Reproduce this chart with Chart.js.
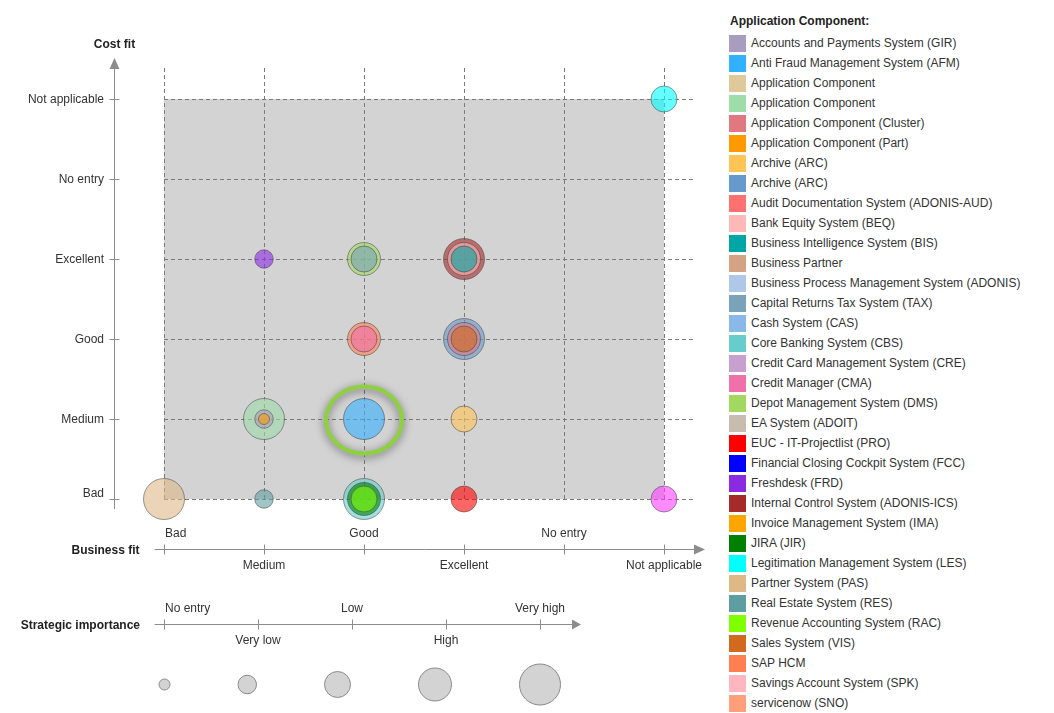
<!DOCTYPE html>
<html>
<head>
<meta charset="utf-8">
<script src="https://cdn.jsdelivr.net/npm/chart.js@4"></script>
<style>
html,body{margin:0;padding:0;background:#fff;overflow:hidden;}
#wrap{position:relative;width:1054px;height:713px;}
#chart{position:absolute;left:0;top:0;}
#legend{position:absolute;left:729px;top:0;width:325px;height:713px;overflow:hidden;font:12px "Liberation Sans",Arial,sans-serif;color:#333;}
#legend .lt{position:absolute;left:1px;top:11px;line-height:20px;font-weight:bold;color:#222;}
#legend .li{position:absolute;left:0;height:20px;line-height:20px;white-space:nowrap;}
#legend .b{position:absolute;left:0;top:1.5px;width:17px;height:17px;}
#legend .t{position:absolute;left:22px;top:0;}
</style>
</head>
<body>
<div id="wrap">
  <canvas id="chart" width="720" height="713"></canvas>
  <div id="legend"></div>
</div>
<script>
// ---------------- DATA ----------------
const fitLevels = ['Bad', 'Medium', 'Good', 'Excellent', 'No entry', 'Not applicable'];
const importanceLevels = ['No entry', 'Very low', 'Low', 'High', 'Very high'];

const legendTitle = 'Application Component:';
const components = [
  'Accounts and Payments System (GIR)',
  'Anti Fraud Management System (AFM)',
  'Application Component',
  'Application Component',
  'Application Component (Cluster)',
  'Application Component (Part)',
  'Archive (ARC)',
  'Archive (ARC)',
  'Audit Documentation System (ADONIS-AUD)',
  'Bank Equity System (BEQ)',
  'Business Intelligence System (BIS)',
  'Business Partner',
  'Business Process Management System (ADONIS)',
  'Capital Returns Tax System (TAX)',
  'Cash System (CAS)',
  'Core Banking System (CBS)',
  'Credit Card Management System (CRE)',
  'Credit Manager (CMA)',
  'Depot Management System (DMS)',
  'EA System (ADOIT)',
  'EUC - IT-Projectlist (PRO)',
  'Financial Closing Cockpit System (FCC)',
  'Freshdesk (FRD)',
  'Internal Control System (ADONIS-ICS)',
  'Invoice Management System (IMA)',
  'JIRA (JIR)',
  'Legitimation Management System (LES)',
  'Partner System (PAS)',
  'Real Estate System (RES)',
  'Revenue Accounting System (RAC)',
  'Sales System (VIS)',
  'SAP HCM',
  'Savings Account System (SPK)',
  'servicenow (SNO)',
  ''   // further component below the visible legend
];
const componentColors = [
  '#a89cc0', '#33b0ff', '#dfc99a', '#9edca8', '#e07880', '#ff9900', '#ffc455', '#6699cc',
  '#ff7070', '#ffb8b8', '#00a6a6', '#d4a285', '#b0c8e8', '#7aa2b8', '#8ab8e8', '#66cccc',
  '#c8a0d0', '#f070a8', '#a2d860', '#c8bcb0', '#ff0000', '#0000ff', '#8a2be2', '#a52a2a',
  '#ffa500', '#008000', '#00ffff', '#deb887', '#5f9ea0', '#7fff00', '#d2691e', '#ff7f50',
  '#ffb6c1', '#ffa07a', '#ff40ff'
];
const businessFit = [
  'Medium', 'Good', null, 'Medium', 'Excellent', 'Medium', 'Excellent', 'Excellent',
  null, 'Excellent', 'Excellent', null, null, 'Good', null, 'Good',
  null, 'Good', 'Good', null, 'Excellent', null, 'Medium', 'Excellent',
  null, 'Good', 'Not applicable', 'Bad', 'Medium', 'Good', 'Excellent', 'Good',
  null, null, 'Not applicable'
];
const costFit = [
  'Medium', 'Medium', null, 'Medium', 'Good', 'Medium', 'Medium', 'Good',
  null, 'Excellent', 'Excellent', null, null, 'Excellent', null, 'Bad',
  null, 'Good', 'Excellent', null, 'Bad', null, 'Excellent', 'Excellent',
  null, 'Bad', 'Not applicable', 'Bad', 'Bad', 'Bad', 'Good', 'Good',
  null, null, 'Bad'
];
const strategicImportance = [
  'Very low', 'Very high', null, 'Very high', 'High', 'No entry', 'Low', 'Very high',
  null, 'High', 'Low', null, null, 'Low', null, 'Very high',
  null, 'Low', 'High', null, 'Low', null, 'Very low', 'Very high',
  null, 'High', 'Low', 'Very high', 'Very low', 'Low', 'Low', 'High',
  null, null, 'Low'
];
const highlightedComponent = 'Anti Fraud Management System (AFM)';

// ---------------- STYLE / LAYOUT ----------------
const FONT_FAMILY = '"Liberation Sans", Arial, sans-serif';
const FONT = '12px ' + FONT_FAMILY;
const FONT_BOLD = 'bold 12px ' + FONT_FAMILY;
const TEXT = '#333333';
const TITLE = '#222222';
const AXIS = '#8c8c8c';
const GRID = '#7a7a7a';
const importanceRadius = [5.5, 9.25, 13, 16.5, 20.5];
const LAYOUT = {
  yAxisX: 114.5, yArrowTip: 58, yArrowBase: 69,
  xAxisY: 549.5, xAxisStart: 154.5, xArrowBase: 694, xArrowTip: 705,
  impAxisY: 624.5, impArrowBase: 572, impArrowTip: 581, impStep: 94,
  sizeRowY: 684.5, sizeGap: 68, textDy: 1
};

function hexA(hex, a) {
  const n = parseInt(hex.slice(1), 16);
  return 'rgba(' + ((n >> 16) & 255) + ',' + ((n >> 8) & 255) + ',' + (n & 255) + ',' + a + ')';
}

// ---------------- LEGEND (HTML) ----------------
const legendEl = document.getElementById('legend');
let lh = '<div class="lt">' + legendTitle + '</div>';
components.forEach((name, i) => {
  if (!name) return;
  lh += '<div class="li" style="top:' + (33 + 20 * i) + 'px"><span class="b" style="background:' +
        componentColors[i] + '"></span><span class="t">' + name + '</span></div>';
});
legendEl.innerHTML = lh;

// ---------------- DATASETS ----------------
const datasets = components.map((name, i) => {
  const imp = strategicImportance[i] == null ? -1 : importanceLevels.indexOf(strategicImportance[i]);
  return {
    label: name,
    data: imp < 0 ? [] : [{
      x: fitLevels.indexOf(businessFit[i]),
      y: fitLevels.indexOf(costFit[i]),
      r: importanceRadius[imp]
    }],
    backgroundColor: hexA(componentColors[i], 0.6),
    borderColor: 'rgba(60,60,60,0.5)',
    borderWidth: 1,
    hoverBorderWidth: 1,
    order: imp,
    clip: false
  };
});

// ---------------- PLUGINS ----------------
function hLine(ctx, x0, y0, x1, y1) { ctx.beginPath(); ctx.moveTo(x0, y0); ctx.lineTo(x1, y1); ctx.stroke(); }
function tri(ctx, a, b, c) { ctx.beginPath(); ctx.moveTo(a[0], a[1]); ctx.lineTo(b[0], b[1]); ctx.lineTo(c[0], c[1]); ctx.closePath(); ctx.fill(); }

const backgroundPlugin = {
  id: 'portfolioBackground',
  beforeDraw(chart) {
    const {ctx, scales: {x, y}} = chart;
    const last = fitLevels.length - 1;
    const x0 = x.getPixelForValue(0), x1 = x.getPixelForValue(last);
    const y0 = y.getPixelForValue(0), y1 = y.getPixelForValue(last);
    ctx.save();
    ctx.fillStyle = '#d3d3d3';
    ctx.fillRect(x0, y1, x1 - x0, y0 - y1);
    ctx.restore();
  }
};

const highlightPlugin = {
  id: 'highlight',
  afterDatasetsDraw(chart) {
    const idx = components.indexOf(highlightedComponent);
    const el = chart.getDatasetMeta(idx).data[0];
    if (!el) return;
    const ctx = chart.ctx;
    ctx.save();
    ctx.shadowColor = 'rgba(0,0,0,0.55)';
    ctx.shadowBlur = 8;
    ctx.shadowOffsetY = 2;
    ctx.strokeStyle = '#8ed13e';
    ctx.lineWidth = 4;
    ctx.beginPath();
    ctx.ellipse(el.x, el.y + 1, 38, 33.5, 0, 0, Math.PI * 2);
    ctx.stroke();
    ctx.restore();
  }
};

const axesPlugin = {
  id: 'portfolioAxes',
  afterDraw(chart) {
    const {ctx, scales: {x, y}} = chart;
    const L = LAYOUT;
    ctx.save();
    ctx.strokeStyle = AXIS; ctx.fillStyle = AXIS; ctx.lineWidth = 1;

    // ----- Cost fit (vertical) -----
    const ax = L.yAxisX;
    const yBottom = Math.round(y.getPixelForValue(0)) + 10;
    hLine(ctx, ax, yBottom, ax, L.yArrowBase);
    tri(ctx, [ax, L.yArrowTip], [ax - 5, L.yArrowBase], [ax + 5, L.yArrowBase]);
    fitLevels.forEach((lab, i) => {
      const py = Math.round(y.getPixelForValue(i)) + 0.5;
      hLine(ctx, ax - 5, py, ax + 5, py);
    });

    // ----- Business fit (horizontal) -----
    const bx0 = x.getPixelForValue(0);
    hLine(ctx, L.xAxisStart, L.xAxisY, L.xArrowBase, L.xAxisY);
    tri(ctx, [L.xArrowTip, L.xAxisY], [L.xArrowBase, L.xAxisY - 5], [L.xArrowBase, L.xAxisY + 5]);
    fitLevels.forEach((lab, i) => {
      const px = Math.round(x.getPixelForValue(i)) + 0.5;
      hLine(ctx, px, L.xAxisY - 5, px, L.xAxisY + 5);
    });

    // ----- Strategic importance -----
    hLine(ctx, L.xAxisStart, L.impAxisY, L.impArrowBase, L.impAxisY);
    tri(ctx, [L.impArrowTip, L.impAxisY], [L.impArrowBase, L.impAxisY - 5], [L.impArrowBase, L.impAxisY + 5]);
    importanceLevels.forEach((lab, i) => {
      const px = Math.round(bx0 + L.impStep * i) + 0.5;
      hLine(ctx, px, L.impAxisY - 5, px, L.impAxisY + 5);
    });

    // size legend circles
    let cx = bx0;
    importanceRadius.forEach((r, i) => {
      if (i > 0) cx += importanceRadius[i - 1] + L.sizeGap + r;
      ctx.beginPath();
      ctx.arc(cx + 0.5, L.sizeRowY, r, 0, Math.PI * 2);
      ctx.fillStyle = '#d3d3d3';
      ctx.fill();
      ctx.strokeStyle = '#8a8a8a';
      ctx.stroke();
    });

    // ----- texts -----
    const dy = L.textDy;
    ctx.fillStyle = TEXT; ctx.font = FONT; ctx.textBaseline = 'middle';
    ctx.textAlign = 'right';
    fitLevels.forEach((lab, i) => {
      ctx.fillText(lab, ax - 10.5, y.getPixelForValue(i) + dy + (i === 0 ? -6 : 0));
    });
    fitLevels.forEach((lab, i) => {
      const px = x.getPixelForValue(i);
      ctx.textAlign = i === 0 ? 'left' : 'center';
      ctx.fillText(lab, i === 0 ? px + 1 : px, (i % 2 === 0 ? L.xAxisY - 17 : L.xAxisY + 15) + dy);
    });
    importanceLevels.forEach((lab, i) => {
      const px = bx0 + L.impStep * i;
      ctx.textAlign = i === 0 ? 'left' : 'center';
      ctx.fillText(lab, i === 0 ? px + 1 : px, (i % 2 === 0 ? L.impAxisY - 16.5 : L.impAxisY + 15.5) + dy);
    });

    ctx.fillStyle = TITLE; ctx.font = FONT_BOLD;
    ctx.textAlign = 'center';
    ctx.fillText('Cost fit', ax, 44 + dy);
    ctx.textAlign = 'right';
    ctx.fillText('Business fit', 139.5, L.xAxisY + dy);
    ctx.fillText('Strategic importance', 140, L.impAxisY + dy);
    ctx.restore();
  }
};

// ---------------- CHART ----------------
Chart.defaults.font.family = FONT_FAMILY;
Chart.defaults.font.size = 12;

const lastLevel = fitLevels.length - 1;
new Chart(document.getElementById('chart'), {
  type: 'bubble',
  data: { datasets },
  options: {
    responsive: false,
    animation: false,
    events: [],
    layout: { autoPadding: false, padding: { top: 68, right: 25, bottom: 0, left: 0 } },
    plugins: { legend: { display: false }, tooltip: { enabled: false } },
    scales: {
      x: {
        type: 'linear', min: 0, max: lastLevel + 0.31,
        grid: { color: GRID, lineWidth: 1, drawTicks: false },
        border: { display: false, dash: [4, 3] },
        ticks: { display: false },
        afterBuildTicks: s => { s.ticks = fitLevels.map((_, i) => ({ value: i })); },
        afterFit: s => { s.height = 214; }
      },
      y: {
        type: 'linear', min: 0, max: lastLevel + 0.3875,
        grid: { color: GRID, lineWidth: 1, drawTicks: false },
        border: { display: false, dash: [4, 3] },
        ticks: { display: false },
        afterBuildTicks: s => { s.ticks = fitLevels.map((_, i) => ({ value: i })); },
        afterFit: s => { s.width = 164; }
      }
    }
  },
  plugins: [backgroundPlugin, highlightPlugin, axesPlugin]
});
</script>
</body>
</html>
